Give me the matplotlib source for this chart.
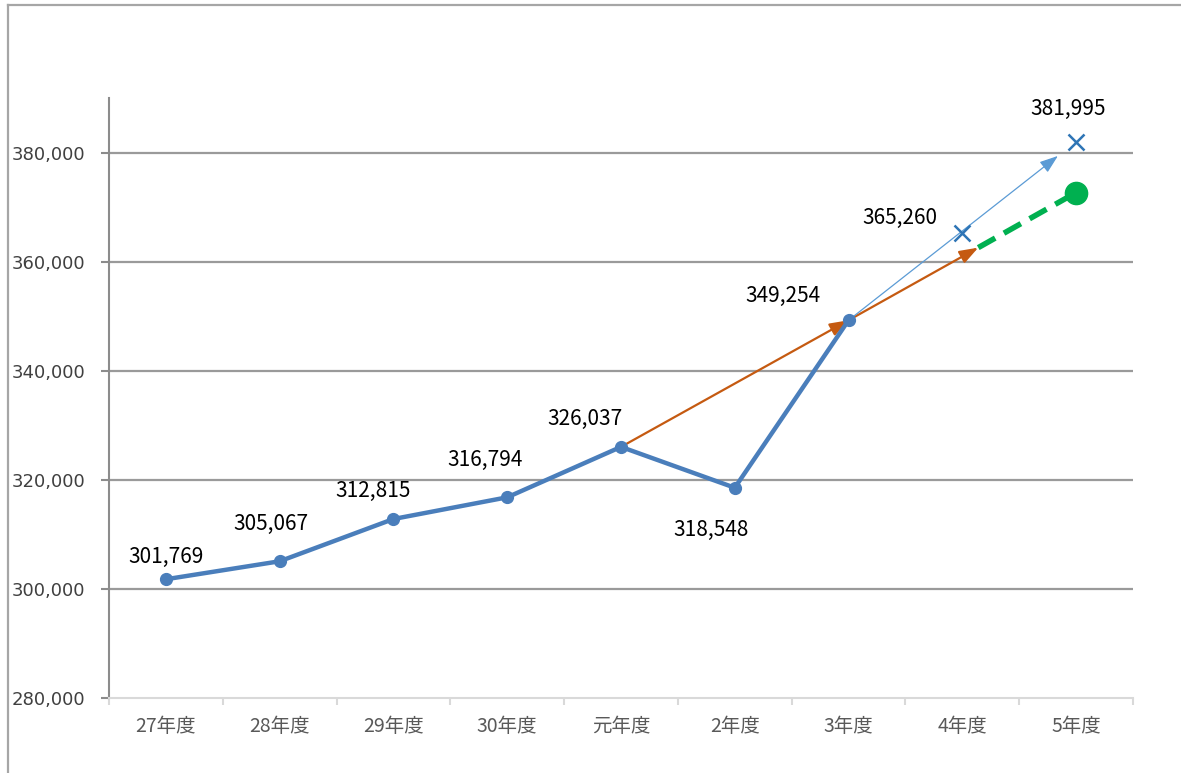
import matplotlib
matplotlib.use('Agg')
import matplotlib.pyplot as plt
from matplotlib.lines import Line2D

plt.rcParams['font.family'] = ['Noto Sans CJK JP', 'DejaVu Sans']

# data
years = ['27年度', '28年度', '29年度', '30年度', '元年度', '2年度', '3年度', '4年度', '5年度']
actual = [301769, 305067, 312815, 316794, 326037, 318548, 349254]
forecast_x = [7, 8]
forecast = [365260, 381995]
# orange trend (元年度 -> 3年度, extended), green dashed continuation
trend_x = [4, 6, 7.14]
trend_y = [326037, 349254, 362570]
green_x = [7.14, 8]
green_y = [362570, 372660]

# label offsets in pixels (dx, dy)
label_off = [(0, 22), (-9, 37), (-20, 28), (-22, 37), (-36, 28), (-24, -42), (-66, 24)]
fc_off = [(-62, 15), (-8, 33)]

fig = plt.figure(figsize=(11.81, 7.73), dpi=100)
ax = fig.add_axes([109/1181, 1-698/773, (1133-109)/1181, 600/773])

# outer frame
fig.add_artist(Line2D([8/1181, 8/1181], [0, 1-5/773], color='#a6a6a6', lw=1.6))
fig.add_artist(Line2D([8/1181, 1], [1-5/773, 1-5/773], color='#a6a6a6', lw=1.6))

xs = list(range(len(years)))
ax.set_xlim(-0.5, 8.5)
ax.set_ylim(280000, 390000)
ax.set_yticks([280000, 300000, 320000, 340000, 360000, 380000])
ax.set_yticklabels([f'{v:,}' for v in ax.get_yticks()], family='DejaVu Sans', fontsize=13, color='#404040')
ax.set_xticks(xs)
ax.set_xticklabels(years, fontsize=14, color='#595959')
ax.set_xticks([x - 0.5 for x in range(len(years) + 1)], minor=True)
ax.tick_params(axis='x', which='major', length=0, pad=13)
ax.tick_params(axis='x', which='minor', length=5, color='#d9d9d9', width=1.5)
ax.tick_params(axis='y', length=6, color='#8c8c8c', width=1.5, pad=11)

for v in [300000, 320000, 340000, 360000, 380000]:
    ax.axhline(v, color='#9a9a9a', lw=1.6, zorder=0)

for s in ['top', 'right']:
    ax.spines[s].set_visible(False)
ax.spines['left'].set_color('#8c8c8c')
ax.spines['left'].set_linewidth(1.5)
ax.spines['bottom'].set_color('#d9d9d9')
ax.spines['bottom'].set_linewidth(1.5)

# trend arrows
head = '-|>,head_length=0.7,head_width=0.25'
arrow_o = dict(arrowstyle=head, color='#c55a11', lw=1.6,
               mutation_scale=16, shrinkA=0, shrinkB=0)
ax.annotate('', xy=(trend_x[1], trend_y[1]), xytext=(trend_x[0], trend_y[0]),
            arrowprops=arrow_o, zorder=3)
ax.annotate('', xy=(trend_x[2], trend_y[2]), xytext=(trend_x[1], trend_y[1]),
            arrowprops=arrow_o, zorder=3)
ax.plot(green_x, green_y, color='#00b050', lw=4, dashes=(3.5, 1.8), zorder=3)
ax.plot(green_x[-1], green_y[-1], 'o', color='#00b050', ms=16, zorder=4)

# blue thin arrow towards 5年度 forecast
tip = 0.92
ax.annotate('', xy=(6 + tip * (forecast_x[1] - 6), actual[6] + tip * (forecast[1] - actual[6])),
            xytext=(6, actual[6]),
            arrowprops=dict(arrowstyle=head, color='#5b9bd5',
                            lw=0.9, mutation_scale=16, shrinkA=0, shrinkB=0), zorder=3)
ax.plot(forecast_x, forecast, 'x', color='#2e75b6', ms=12, mew=1.8, ls='none', zorder=4)

# main line
ax.plot(xs[:len(actual)], actual, '-o', color='#4a7ebb', lw=3.2, ms=8.5, zorder=5)

for x, v, (dx, dy) in zip(xs, actual, label_off):
    ax.annotate(f'{v:,}', (x, v), xytext=(dx, dy), textcoords='offset pixels',
                ha='center', va='center', fontsize=15, color='black')
for x, v, (dx, dy) in zip(forecast_x, forecast, fc_off):
    ax.annotate(f'{v:,}', (x, v), xytext=(dx, dy), textcoords='offset pixels',
                ha='center', va='center', fontsize=15, color='black')

fig.savefig('out.png', dpi=100)
